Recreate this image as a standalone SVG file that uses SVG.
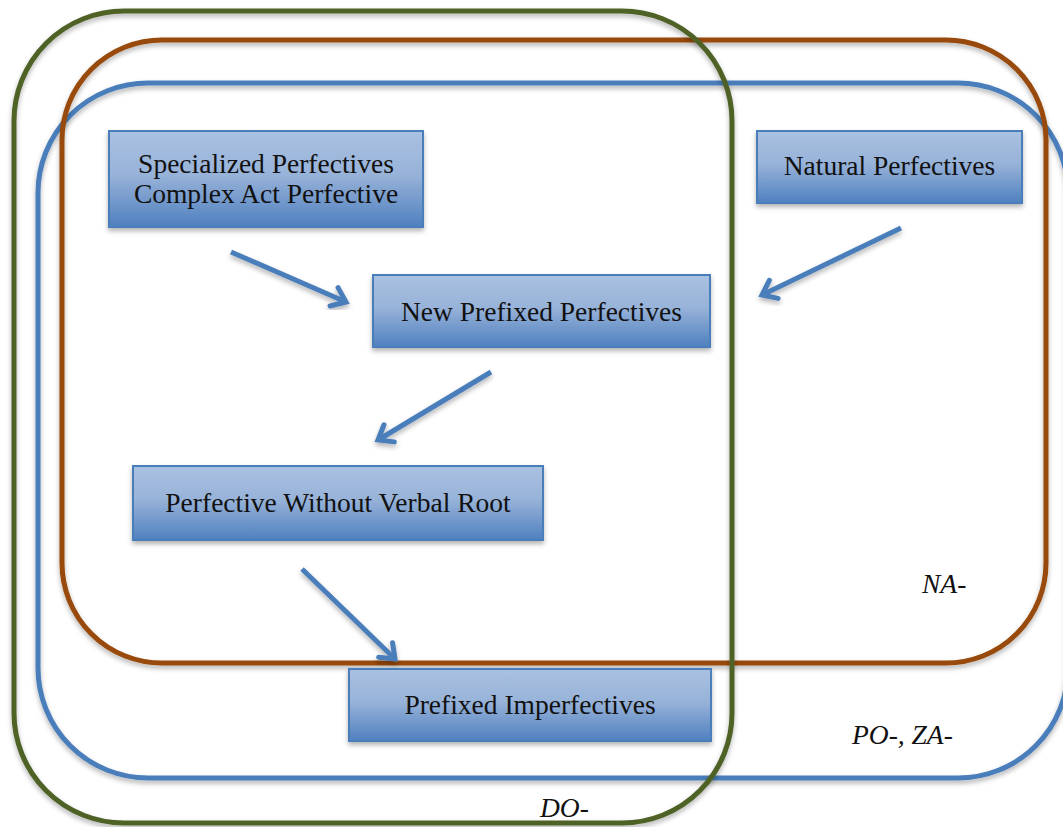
<svg xmlns="http://www.w3.org/2000/svg" width="1063" height="827" viewBox="0 0 1063 827">
  <defs>
    <linearGradient id="boxFill" x1="0" y1="0" x2="0" y2="1">
      <stop offset="0" stop-color="#a9c1e1"/>
      <stop offset="0.45" stop-color="#98b3d9"/>
      <stop offset="1" stop-color="#4f80bf"/>
    </linearGradient>
    <filter id="shadow" x="-10%" y="-10%" width="120%" height="125%">
      <feDropShadow dx="0" dy="3" stdDeviation="2.5" flood-color="#000" flood-opacity="0.3"/>
    </filter>
    <marker id="head" markerUnits="userSpaceOnUse" markerWidth="30" markerHeight="30" viewBox="-20 -15 30 30" refX="0" refY="0" orient="auto">
      <path d="M -13 -10 L 0 0 L -13 10" fill="none" stroke="#4a7ebb" stroke-width="5" stroke-linecap="round" stroke-linejoin="miter"/>
    </marker>
    <style>
      .set { fill: none; stroke-width: 5; filter: url(#shadow); }
      .box rect { fill: url(#boxFill); stroke: #4a7ebb; stroke-width: 2; filter: url(#shadow); }
      .box text { font-family: "Liberation Serif", "Times New Roman", serif; font-size: 27.5px; fill: #111; text-anchor: middle; }
      .tag { font-family: "Liberation Serif", "Times New Roman", serif; font-size: 27.5px; font-style: italic; fill: #111; }
      .arrow { stroke: #4a7ebb; stroke-width: 5; fill: none; marker-end: url(#head); filter: url(#shadow); }
    </style>
  </defs>

  <rect width="1063" height="827" fill="#ffffff"/>

  <!-- prefix sets -->
  <g id="set-po-za">
    <rect class="set" x="38" y="83" width="1030" height="695" rx="110" ry="110" stroke="#4a7ebb"/>
    <text class="tag" x="852" y="744">PO-, ZA-</text>
  </g>
  <g id="set-na">
    <rect class="set" x="62" y="40" width="984" height="623" rx="100" ry="100" stroke="#984807"/>
    <text class="tag" x="922" y="593">NA-</text>
  </g>
  <g id="set-do">
    <rect class="set" x="14" y="11" width="718" height="812" rx="110" ry="110" stroke="#4f6228"/>
    <text class="tag" x="540" y="817">DO-</text>
  </g>

  <!-- aspect classes -->
  <g id="specialized" class="box">
    <rect x="109" y="131" width="314" height="96"/>
    <text x="266" y="173">Specialized Perfectives</text>
    <text x="266" y="203">Complex Act Perfective</text>
  </g>
  <g id="natural" class="box">
    <rect x="757" y="131" width="265" height="72"/>
    <text x="889.5" y="175">Natural Perfectives</text>
  </g>
  <g id="new-prefixed" class="box">
    <rect x="373" y="275" width="337" height="72"/>
    <text x="541.5" y="321">New Prefixed Perfectives</text>
  </g>
  <g id="without-root" class="box">
    <rect x="133" y="466" width="410" height="74"/>
    <text x="338" y="512">Perfective Without Verbal Root</text>
  </g>
  <g id="imperfectives" class="box">
    <rect x="349" y="669" width="362" height="72"/>
    <text x="530" y="714">Prefixed Imperfectives</text>
  </g>

  <!-- derivation arrows -->
  <g id="connectors">
    <line class="arrow" x1="470" y1="179" x2="706" y2="179"/>
    <line class="arrow" x1="231" y1="252" x2="346" y2="302"/>
    <line class="arrow" x1="901" y1="228" x2="762" y2="295"/>
    <line class="arrow" x1="491" y1="372" x2="378" y2="440"/>
    <line class="arrow" x1="614" y1="396" x2="614" y2="631"/>
    <line class="arrow" x1="302" y1="569" x2="395" y2="659"/>
  </g>
</svg>
